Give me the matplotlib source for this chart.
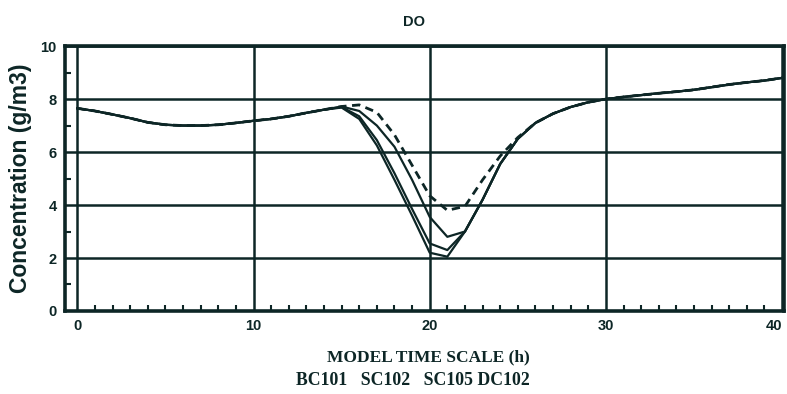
import numpy as np
import matplotlib
matplotlib.use("Agg")
import matplotlib.pyplot as plt
from matplotlib.ticker import MultipleLocator

# hourly model output, t = 0..40 h
hours = np.arange(0, 41)

common = [7.65, 7.55, 7.42, 7.28, 7.12, 7.03, 7.0, 7.0, 7.03, 7.1,
          7.18, 7.25, 7.35, 7.48, 7.6]
tail = [7.1, 7.45, 7.7, 7.88, 8.0, 8.08, 8.15, 8.22, 8.28, 8.35,
        8.45, 8.55, 8.63, 8.7, 8.8]

bc101 = common + [7.68, 7.25, 6.25, 4.95, 3.6, 2.2, 2.05, 3.0, 4.2, 5.55, 6.5] + tail
sc102 = common + [7.7, 7.35, 6.45, 5.2, 3.85, 2.55, 2.3, 3.0, 4.2, 5.55, 6.5] + tail
sc105 = common + [7.72, 7.55, 7.0, 6.2, 4.95, 3.55, 2.8, 3.0, 4.2, 5.55, 6.5] + tail
dc102 = common + [7.72, 7.78, 7.5, 6.65, 5.5, 4.35, 3.8, 3.95, 4.95, 5.85, 6.55] + tail

series_names = ["BC101", "SC102", "SC105", "DC102"]
x_major = [0, 10, 20, 30, 40]
y_major = [0, 2, 4, 6, 8, 10]

ink = "#0d2626"

fig = plt.figure(figsize=(7.87, 3.94), dpi=100)
ax = fig.add_axes([0.0826, 0.2107, 0.9134, 0.6723])

for xv in x_major:
    ax.axvline(xv, color=ink, lw=1.8, zorder=1)
for yv in y_major[1:]:
    ax.axhline(yv, color=ink, lw=1.8, zorder=1)

ax.plot(hours, bc101, color=ink, lw=1.6, zorder=3)
ax.plot(hours, sc102, color=ink, lw=1.6, zorder=3)
ax.plot(hours, sc105, color=ink, lw=1.6, zorder=3)
ax.plot(hours, dc102, color=ink, lw=2.0, ls=(0, (3, 2)), zorder=3)

ax.set_xlim(-0.7, 40.1)
ax.set_ylim(0, 10)
ax.set_xticks(x_major)
ax.set_yticks(y_major)
ax.xaxis.set_minor_locator(MultipleLocator(1))
ax.yaxis.set_minor_locator(MultipleLocator(1))
ax.tick_params(which="major", length=0, labelsize=10.5, pad=6, colors=ink)
ax.tick_params(which="minor", direction="in", length=4, width=1.5, color=ink)
for lab in ax.get_xticklabels() + ax.get_yticklabels():
    lab.set_fontweight("bold")
    lab.set_family("Liberation Sans")
# keep the last x label inside the figure edge
ax.get_xticklabels()[-1].set_ha("right")
for sp in ax.spines.values():
    sp.set_linewidth(2.6)
    sp.set_color(ink)

ax.set_ylabel("Concentration (g/m3)", fontsize=16.5, fontweight="bold",
              family="Liberation Sans", color=ink, labelpad=6)
ax.set_xlabel("MODEL TIME SCALE (h)", fontsize=12.5, fontweight="bold",
              family="Liberation Serif", color=ink, labelpad=8)
ax.xaxis.set_label_coords(0.505, -0.145)

fig.text(0.526, 0.945, "DO", ha="center", va="center", fontsize=10.5,
         fontweight="bold", family="Liberation Sans", color=ink)
fig.text(0.525, 0.035, "   ".join(series_names[:3]) + " " + series_names[3],
         ha="center", va="center", fontsize=12.8, fontweight="bold",
         family="Liberation Serif", color=ink)

fig.savefig("out.png", dpi=100)
